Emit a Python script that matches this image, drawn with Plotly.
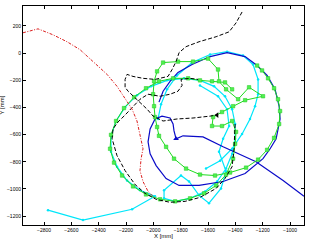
import plotly.graph_objects as go

# ---- data (mm) ----
red_x = [-2954, -2902, -2844, -2734, -2632, -2537, -2441, -2339, -2266, -2207, -2156, -2120,
         -2098, -2076, -2090, -2098, -2076, -2039, -1988]
red_y = [149, 164, 178, 134, 83, 25, -63, -157, -245, -332, -413, -500,
         -609, -704, -777, -865, -945, -1018, -1069]

black1_x = [-1351, -1395, -1446, -1541, -1666, -1761, -1812, -1834, -1863, -1893, -1988, -2076,
            -2149, -2193, -2207, -2207, -2185, -2120, -2046, -2002, -1929, -1827, -1710, -1585, -1534]
black1_y = [302, 222, 156, 120, 83, 47, 3, -63, -121, -172, -194, -186,
            -172, -157, -194, -252, -281, -340, -413, -464, -500, -485, -478, -464, -456]

black2_x = [-1402, -1410, -1424, -1476, -1541, -1659, -1768, -1878, -1980, -2061, -2134, -2207,
            -2266, -2302, -2295, -2259, -2207, -2149, -2098, -2039, -1951, -1878, -1820, -1790,
            -1798, -1732, -1673]
black2_y = [-522, -704, -836, -923, -996, -1062, -1091, -1098, -1076, -1032, -967, -865,
            -755, -631, -558, -507, -456, -398, -340, -303, -318, -303, -281, -238,
            -194, -186, -194]

blue_x = [-1959, -1929, -1878, -1820, -1717, -1585, -1461, -1329, -1241, -1168, -1110, -1080,
          -1073, -1102, -1146, -1198, -1329, -1490, -1666, -1812, -1907, -1980, -2024, -2039,
          -2024, -1988, -1937, -1878, -1856, -1849, -1834, -1783, -1637, -1490, -1249, -1051, -898]
blue_y = [-361, -281, -208, -143, -84, -26, 3, -26, -92, -165, -267, -391,
          -485, -631, -704, -777, -886, -945, -974, -974, -923, -828, -741, -653,
          -558, -485, -464, -478, -522, -573, -631, -609, -617, -690, -799, -938, -1054]

cyan_x = [-2771, -2515, -2156, -1988, -2098, -2193, -2266, -2310, -2310, -2273, -2207, -2120,
          -2017, -1900, -1776, -1659, -1556, -1476, -1424, -1402, -1402, -1424, -1468, -1534,
          -1622, -1732, -1841, -1922, -1922, -1798, -1739, -1666, -1593, -1505, -1468, -1520,
          -1490, -1446, -1461, -1527, -1659, None,
          -1966, -1944, -1900, -1827, -1717, -1585, -1461, -1344, -1271, -1234, -1234, -1256,
          -1293, -1351, -1424, -1512, -1615]
cyan_y = [-1156, -1229, -1149, -1054, -1010, -938, -836, -726, -609, -500, -398, -310,
          -245, -201, -186, -201, -245, -318, -413, -522, -631, -741, -850, -945,
          -1018, -1069, -1091, -1069, -1010, -901, -945, -1047, -1105, -996, -872, -726,
          -631, -537, -413, -318, -238, None,
          -485, -376, -267, -165, -70, -11, 10, -19, -84, -194, -303, -391,
          -485, -595, -704, -792, -850]

green_x = [-1241, -1205, -1161, -1117, -1088, -1073, -1080, -1117, -1168, -1234, -1322, -1439,
           -1549, -1659, -1761, -1849, -1907, -1959, -1973, -1988, -1995, -2002, -1995, -1973,
           -1929, -1820, -1710, -1600, -1527, -1520, -1468, -1380, -1300, -1198, -1329, -1417,
           -1498, -1563, -1571, -1498, -1424, -1395, -1402, -1417, -1468, -1541, -1629, -1732,
           -1841, -1951, -2054, -2149, -2229, -2288, -2317, -2310, -2273, -2215, -2141, -2054,
           -1959, -1856, -1746, -1659, -1571, -1476, -1424]
green_y = [-92, -128, -186, -259, -340, -427, -522, -624, -712, -784, -843, -879,
           -901, -894, -850, -777, -690, -609, -544, -471, -391, -303, -208, -135,
           -70, -63, -63, -41, -121, -208, -267, -340, -252, -318, -347, -391,
           -434, -471, -537, -537, -500, -580, -668, -777, -894, -974, -1032, -1069,
           -1091, -1076, -1040, -981, -901, -806, -704, -602, -500, -405, -325, -259,
           -208, -186, -186, -201, -208, -216, -267]

x_ticks = [-2800, -2600, -2400, -2200, -2000, -1800, -1600, -1400, -1200, -1000]
y_ticks = [-1200, -1000, -800, -600, -400, -200, 0, 200]
x_range = [-2954, -898]
y_range = [-1265, 346]

fig = go.Figure()
fig.add_trace(go.Scatter(x=cyan_x, y=cyan_y, mode="lines+markers",
                         line=dict(color="rgb(0,230,250)", width=1.2),
                         marker=dict(symbol="circle", size=2.5, color="rgb(0,230,250)"),
                         connectgaps=False))
fig.add_trace(go.Scatter(x=blue_x, y=blue_y, mode="lines",
                         line=dict(color="rgb(10,10,200)", width=1.2)))
fig.add_trace(go.Scatter(x=green_x, y=green_y, mode="lines+markers",
                         line=dict(color="rgb(30,220,30)", width=1),
                         marker=dict(symbol="square", size=3.5, color="rgb(80,240,80)",
                                     line=dict(color="rgb(30,200,30)", width=0.5))))
fig.add_trace(go.Scatter(x=black1_x, y=black1_y, mode="lines",
                         line=dict(color="black", width=1, dash="4px,2px")))
fig.add_trace(go.Scatter(x=black2_x, y=black2_y, mode="lines",
                         line=dict(color="black", width=1, dash="4px,2px")))
fig.add_trace(go.Scatter(x=red_x, y=red_y, mode="lines",
                         line=dict(color="rgb(220,30,30)", width=1, dash="3px,1.5px,1px,1.5px")))
# end markers
fig.add_trace(go.Scatter(x=[blue_x[30]], y=[blue_y[30]], mode="markers",
                         marker=dict(symbol="triangle-up", size=5, color="rgb(10,10,200)")))
fig.add_trace(go.Scatter(x=[black1_x[-1]], y=[black1_y[-1]], mode="markers",
                         marker=dict(symbol="triangle-left", size=5, color="black")))

axis_common = dict(showgrid=False, zeroline=False, showline=True, linecolor="black",
                   linewidth=1, mirror="allticks", ticks="inside", ticklen=3,
                   tickcolor="black", tickfont=dict(size=5, color="black",
                                                    family="Liberation Sans"))
fig.update_layout(
    width=312, height=240, showlegend=False,
    paper_bgcolor="white", plot_bgcolor="white",
    margin=dict(l=23, r=8, t=6, b=15),
    xaxis=dict(range=x_range, tickvals=x_ticks, ticklabelstandoff=0, **axis_common),
    yaxis=dict(range=y_range, tickvals=y_ticks, **axis_common),
    annotations=[
        dict(text="X [mm]", x=0.5, y=-15 / 219, xref="paper", yref="paper", showarrow=False,
             yanchor="bottom", borderpad=0, font=dict(size=6, family="Liberation Sans",
                                                      color="black")),
        dict(text="Y [mm]", x=-0.075, y=0.55, xref="paper", yref="paper", showarrow=False,
             textangle=-90, xanchor="center", font=dict(size=6, family="Liberation Sans",
                                                       color="black")),
    ],
)
fig.write_html("out.html")
